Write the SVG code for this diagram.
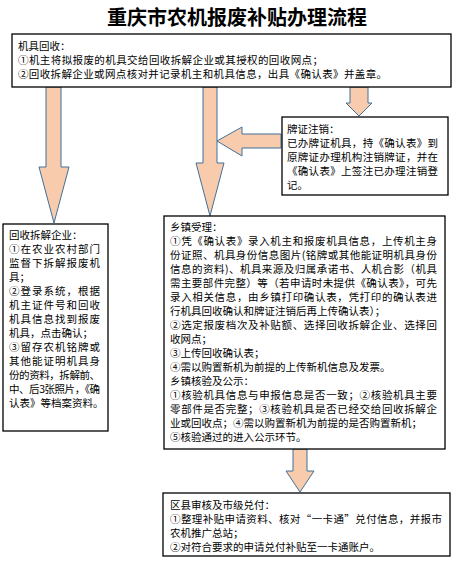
<svg xmlns="http://www.w3.org/2000/svg" width="467" height="576" viewBox="0 0 467 576">
<style>
.box{fill:#fff;stroke:#000;stroke-width:1.3}
.arr{fill:#F8CBAD;stroke:#41719C;stroke-width:1}
text{font-family:"Noto Sans CJK SC","Liberation Serif",sans-serif;font-size:10.5px;fill:#000}
.t{font-size:20px;font-weight:bold}
</style>
<rect width="467" height="576" fill="#fff"/>
<text class="t" x="237" y="25" text-anchor="middle">重庆市农机报废补贴办理流程</text>

<g id="connectors">
<polygon class="arr" points="46,87 61,87 61,167 69,167 54,223 39,167 46,167"/>
<polygon class="arr" points="203,87 217,87 217,163 224,163 210,216 196,163 203,163"/>
<polygon class="arr" points="281,134 242,134 242,127 217,141 242,156 242,148 281,148"/>
<polygon class="arr" points="350,87 368,87 368,103 372,103 359,116 346,103 350,103"/>
<polygon class="arr" points="293,449 307,449 307,471 314,471 300,492 286,471 293,471"/>
</g>

<g id="recycle">
<rect class="box" x="12" y="34" width="439" height="53"/>
<text x="18" y="50">机具回收：</text>
<text x="18" y="64" textLength="305">①机主将拟报废的机具交给回收拆解企业或其授权的回收网点；</text>
<text x="18" y="78" textLength="369">②回收拆解企业或网点核对并记录机主和机具信息，出具《确认表》并盖章。</text>
</g>

<g id="license">
<rect class="box" x="282" y="117" width="166" height="78"/>
<text x="287" y="133">牌证注销：</text>
<text x="287" y="147" textLength="151">已办牌证机具，持《确认表》到</text>
<text x="287" y="161" textLength="151">原牌证办理机构注销牌证，并在</text>
<text x="287" y="175" textLength="151">《确认表》上签注已办理注销登</text>
<text x="287" y="189">记。</text>
</g>

<g id="enterprise">
<rect class="box" x="3" y="224" width="105" height="207"/>
<text x="9" y="239">回收拆解企业：</text>
<text x="9" y="253" textLength="91">①在农业农村部门</text>
<text x="9" y="267" textLength="91">监督下拆解报废机</text>
<text x="9" y="281">具；</text>
<text x="9" y="295" textLength="91">②登录系统，根据</text>
<text x="9" y="309" textLength="91">机主证件号和回收</text>
<text x="9" y="323" textLength="91">机具信息找到报废</text>
<text x="9" y="337">机具，点击确认；</text>
<text x="9" y="351" textLength="91">③留存农机铭牌或</text>
<text x="9" y="365" textLength="91">其他能证明机具身</text>
<text x="9" y="379" textLength="91">份的资料，拆解前、</text>
<text x="9" y="393" textLength="91">中、后3张照片，《确</text>
<text x="9" y="407">认表》等档案资料。</text>
</g>

<g id="township">
<rect class="box" x="164" y="216" width="281" height="233"/>
<text x="170" y="231">乡镇受理：</text>
<text x="170" y="245" textLength="267">①凭《确认表》录入机主和报废机具信息，上传机主身</text>
<text x="170" y="259" textLength="267">份证照、机具身份信息图片(铭牌或其他能证明机具身份</text>
<text x="170" y="273" textLength="267">信息的资料)、机具来源及归属承诺书、人机合影（机具</text>
<text x="170" y="287" textLength="267">需主要部件完整）等（若申请时未提供《确认表》，可先</text>
<text x="170" y="301" textLength="267">录入相关信息，由乡镇打印确认表，凭打印的确认表进</text>
<text x="170" y="315">行机具回收确认和牌证注销后再上传确认表）；</text>
<text x="170" y="329" textLength="267">②选定报废档次及补贴额、选择回收拆解企业、选择回</text>
<text x="170" y="343">收网点；</text>
<text x="170" y="357">③上传回收确认表；</text>
<text x="170" y="371">④需以购置新机为前提的上传新机信息及发票。</text>
<text x="170" y="385">乡镇核验及公示：</text>
<text x="170" y="399" textLength="267">①核验机具信息与申报信息是否一致；②核验机具主要</text>
<text x="170" y="413" textLength="267">零部件是否完整；③核验机具是否已经交给回收拆解企</text>
<text x="170" y="427">业或回收点；④需以购置新机为前提的是否购置新机；</text>
<text x="170" y="441">⑤核验通过的进入公示环节。</text>
</g>

<g id="county">
<rect class="box" x="163" y="493" width="287" height="63"/>
<text x="170" y="509">区县审核及市级兑付：</text>
<text x="170" y="523" textLength="272">①整理补贴申请资料、核对“一卡通”兑付信息，并报市</text>
<text x="170" y="537">农机推广总站；</text>
<text x="170" y="551">②对符合要求的申请兑付补贴至一卡通账户。</text>
</g>
</svg>
